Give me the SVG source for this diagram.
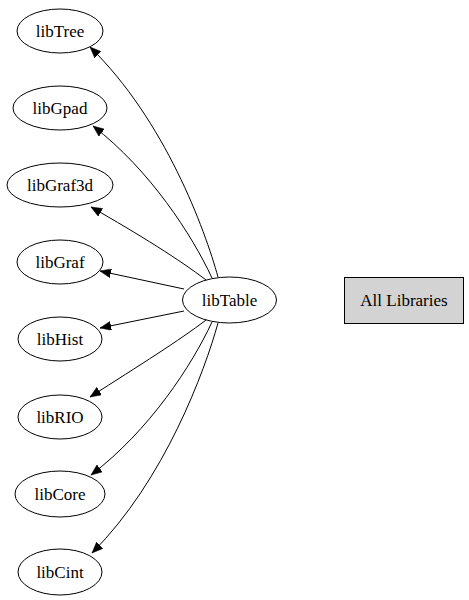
<svg xmlns="http://www.w3.org/2000/svg" width="469" height="600" viewBox="0 0 469 600">
<style>
.n ellipse{fill:none;stroke:#000;stroke-width:1}
text{font-family:"Liberation Serif","Times New Roman",serif;font-size:17px;fill:#000;text-anchor:middle}
.e path{fill:none;stroke:#000;stroke-width:1}
</style>
<defs>
<marker id="ah" markerUnits="userSpaceOnUse" markerWidth="12" markerHeight="9" refX="11" refY="4.5" orient="auto">
<path d="M0,0 L11,4.5 L0,9 z" fill="#000" stroke="#000" stroke-width="0.5"/>
</marker>
</defs>
<rect width="469" height="600" fill="#fff"/>
<g class="e" id="edges">
<path d="M218,277 C205,230 165,120 90,47" marker-end="url(#ah)"/>
<path d="M212,278 C192,235 150,170 93,126" marker-end="url(#ah)"/>
<path d="M206,280 C180,260 140,235 91,207" marker-end="url(#ah)"/>
<path d="M184,289 L100,271" marker-end="url(#ah)"/>
<path d="M184,311 L100,328" marker-end="url(#ah)"/>
<path d="M206,320 C180,340 140,365 90,397" marker-end="url(#ah)"/>
<path d="M212,322 C192,365 150,430 91,475" marker-end="url(#ah)"/>
<path d="M218,323 C205,370 165,480 92,553" marker-end="url(#ah)"/>
</g>
<g class="n" id="libTree"><ellipse cx="60" cy="31" rx="43" ry="22"/><text x="60" y="37">libTree</text></g>
<g class="n" id="libGpad"><ellipse cx="60" cy="108" rx="47" ry="22"/><text x="60" y="114">libGpad</text></g>
<g class="n" id="libGraf3d"><ellipse cx="60" cy="185" rx="53" ry="22"/><text x="60" y="191">libGraf3d</text></g>
<g class="n" id="libGraf"><ellipse cx="60" cy="262" rx="43" ry="22"/><text x="60" y="268">libGraf</text></g>
<g class="n" id="libHist"><ellipse cx="60" cy="339" rx="42" ry="22"/><text x="60" y="345">libHist</text></g>
<g class="n" id="libRIO"><ellipse cx="60" cy="417" rx="42" ry="22"/><text x="60" y="423">libRIO</text></g>
<g class="n" id="libCore"><ellipse cx="60" cy="494" rx="45" ry="23"/><text x="60" y="500">libCore</text></g>
<g class="n" id="libCint"><ellipse cx="60" cy="572" rx="42" ry="23"/><text x="60" y="578">libCint</text></g>
<g class="n" id="libTable"><ellipse cx="229.5" cy="300" rx="47" ry="23"/><text x="229.5" y="306">libTable</text></g>
<g id="AllLibraries"><rect x="344.5" y="277.5" width="119" height="46" fill="#d3d3d3" stroke="#000"/><text x="404" y="306">All Libraries</text></g>
</svg>
